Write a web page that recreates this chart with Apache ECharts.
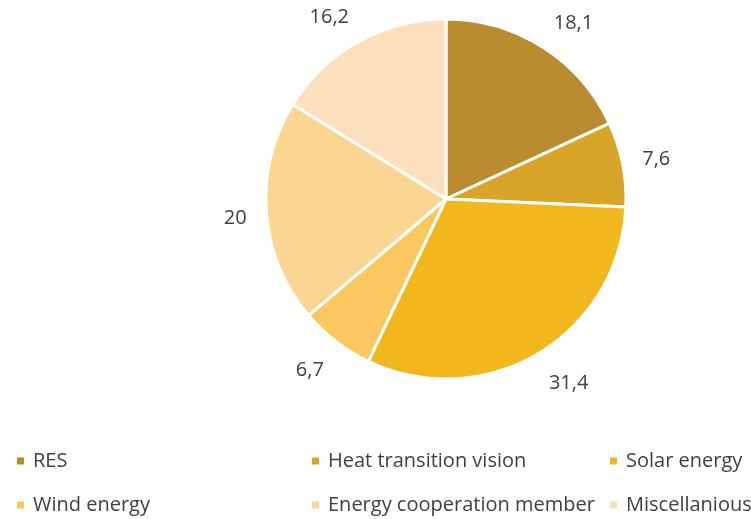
<!DOCTYPE html>
<html>
<head>
<meta charset="utf-8">
<script src="https://cdn.jsdelivr.net/npm/echarts@6/dist/echarts.min.js"></script>
<style>
  html, body { margin: 0; padding: 0; background: #fff; }
  #chart { width: 751px; height: 519px; }
</style>
</head>
<body>
<div id="chart"></div>
<script>
// Share of topics (percent)
const categories = ['RES', 'Heat transition vision', 'Solar energy', 'Wind energy', 'Energy cooperation member', 'Miscellanious'];
const values = [18.1, 7.6, 31.4, 6.7, 20, 16.2];
const colors = ['#BA8C2F', '#D9A528', '#F1B71D', '#FBC85F', '#FBD592', '#FCDFBD'];

const FONT = '"Open Sans", "Liberation Sans", sans-serif';
const TEXT = '#404040';

const CX = 446, CY = 199, R = 180;

// One legend block per category, laid out on a 3-column grid
const colX = [10, 305, 603];
const rowY = [446, 490];
const legends = categories.map((name, i) => ({
  data: [name],
  left: colX[i % 3],
  top: rowY[Math.floor(i / 3)],
  icon: 'rect',
  itemWidth: 9,
  itemHeight: 9,
  selectedMode: false,
  textStyle: { fontFamily: FONT, fontSize: 20, color: TEXT, padding: [0, 0, 0, 3] }
}));

// Mid-angle (radians, counter-clockwise from 3 o'clock) of each slice,
// going clockwise from 12 o'clock
const total = values.reduce((a, b) => a + b, 0);
const midAngles = [];
values.reduce((cum, v) => {
  midAngles.push((90 - (cum + v / 2) / total * 360) * Math.PI / 180);
  return cum + v;
}, 0);

const clamp1 = v => Math.max(-1, Math.min(1, v));

// Value labels sit just outside the rim: the label box touches the slice's
// mid-angle ray with its inner edge or corner
function placeLabel(params) {
  const a = midAngles[params.dataIndex];
  const d = R + 20;
  const c = Math.cos(a), s = Math.sin(a);
  const w = params.labelRect.width, h = params.labelRect.height;
  return {
    x: CX + d * c + (w / 2) * clamp1(c / 0.5),
    y: CY - d * s - (h / 2) * clamp1(s / 0.5) + 3,
    align: 'center',
    verticalAlign: 'middle'
  };
}

const chart = echarts.init(document.getElementById('chart'));
chart.setOption({
  animation: false,
  color: colors,
  legend: legends,
  series: [{
    type: 'pie',
    center: [CX, CY],
    radius: [0, R],
    startAngle: 90,
    clockwise: true,
    itemStyle: { borderColor: '#fff', borderWidth: 3 },
    label: {
      show: true,
      position: 'outside',
      fontFamily: FONT,
      fontSize: 20,
      color: TEXT,
      formatter: p => String(p.value).replace('.', ',')
    },
    labelLine: { show: false, length: 20, length2: 0 },
    labelLayout: placeLabel,
    emphasis: { disabled: true },
    data: categories.map((name, i) => ({ name, value: values[i] }))
  }]
});
</script>
</body>
</html>
